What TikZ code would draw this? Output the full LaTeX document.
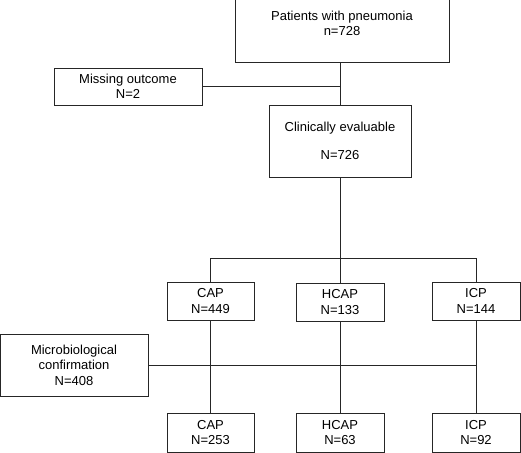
\documentclass[tikz,border=0pt]{standalone}
\usepackage{fontspec}
\setmainfont{Liberation Sans}
\usetikzlibrary{positioning}
\tikzset{
  flow box/.style={
    draw=black!85,
    line width=1pt,
    align=center,
    inner sep=0pt,
    minimum width={#1pt},
    font=\fontsize{13}{15.5}\selectfont,
  },
  link/.style={
    draw=black!85,
    line width=1pt,
  }
}

\begin{document}
\begin{tikzpicture}[x=1pt,y=-1pt]
        \useasboundingbox (0,0) rectangle (521,452);

        \node [flow box=214, minimum height=62pt] (pat) at (342,31) {Patients with pneumonia\\ n=728\\ \mbox{}};
        \node [flow box=148, minimum height=37pt] (miss) at (128,86.5) {Missing outcome\\ N=2};
        \node [flow box=142, minimum height=72pt] (clin) at (340,141) {Clinically evaluable\\[12.5pt] N=726};

        \node [flow box=87, minimum height=38pt] (cap1) at (210.5,301) {CAP\\ N=449};
        \node [flow box=88, minimum height=38pt] (hcap1) at (340,302) {HCAP\\ N=133};
        \node [flow box=88, minimum height=38pt] (icp1) at (476,301) {ICP\\ N=144};

        \node [flow box=148, minimum height=62pt] (micro) at (74,365) {Microbiological\\ confirmation\\ N=408};

        \node [flow box=87, minimum height=39pt] (cap2) at (210.5,432.5) {CAP\\ N=253};
        \node [flow box=88, minimum height=39pt] (hcap2) at (340,432.5) {HCAP\\ N=63};
        \node [flow box=88, minimum height=39pt] (icp2) at (476,432.5) {ICP\\ N=92};

        \coordinate (split) at (340,258);

        \draw [link] (clin.north |- pat.south) -- (clin.north);
        \draw [link] (miss.east) -- (miss.east -| clin.north);
        \draw [link] (clin.south) -- (split);
        \draw [link] (cap1.north) -- (cap1.north |- split) -- (icp1.north |- split) -- (icp1.north);
        \draw [link] (hcap1.north) -- (split);

        \draw [link] (cap1.south) -- (cap2.north);
        \draw [link] (hcap1.south) -- (hcap2.north);
        \draw [link] (icp1.south) -- (icp2.north);
        \draw [link] (micro.east) -- (micro.east -| icp1.south);
      \end{tikzpicture}
\end{document}
